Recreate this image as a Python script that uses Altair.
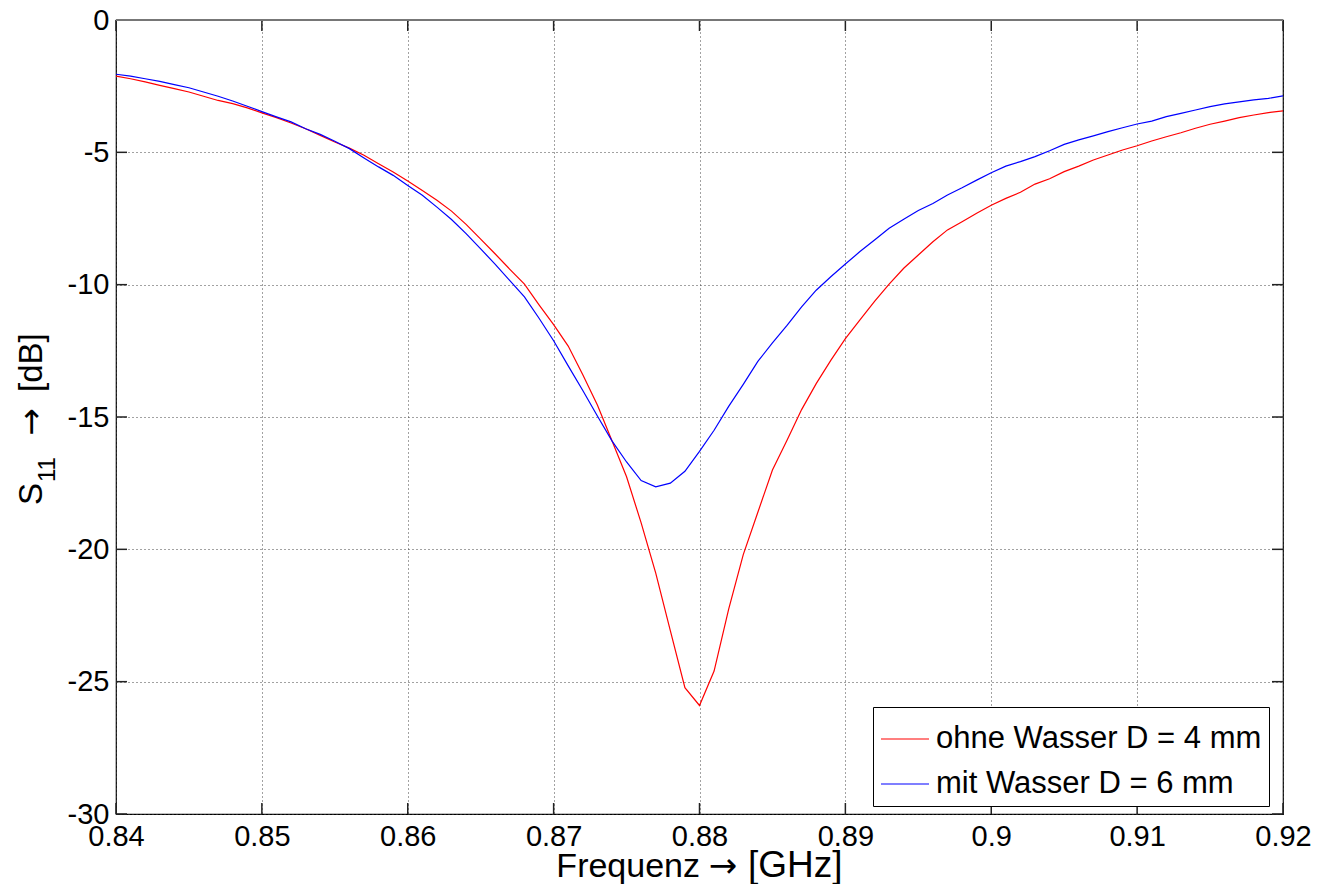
import altair as alt
import pandas as pd

freq = [0.840, 0.841, 0.842, 0.843, 0.844, 0.845, 0.846, 0.847, 0.848, 0.849,
        0.850, 0.851, 0.852, 0.853, 0.854, 0.855, 0.856, 0.857, 0.858, 0.859,
        0.860, 0.861, 0.862, 0.863, 0.864, 0.865, 0.866, 0.867, 0.868, 0.869,
        0.870, 0.871, 0.872, 0.873, 0.874, 0.875, 0.876, 0.877, 0.878, 0.879,
        0.880, 0.881, 0.882, 0.883, 0.884, 0.885, 0.886, 0.887, 0.888, 0.889,
        0.890, 0.891, 0.892, 0.893, 0.894, 0.895, 0.896, 0.897, 0.898, 0.899,
        0.900, 0.901, 0.902, 0.903, 0.904, 0.905, 0.906, 0.907, 0.908, 0.909,
        0.910, 0.911, 0.912, 0.913, 0.914, 0.915, 0.916, 0.917, 0.918, 0.919,
        0.920]

ohne_wasser = [-2.12, -2.22, -2.34, -2.47, -2.59, -2.72, -2.88, -3.04, -3.16, -3.32,
               -3.51, -3.69, -3.89, -4.11, -4.36, -4.61, -4.84, -5.11, -5.43, -5.74,
               -6.08, -6.44, -6.81, -7.22, -7.72, -8.28, -8.84, -9.42, -9.98, -10.76,
               -11.51, -12.32, -13.40, -14.55, -15.90, -17.26, -19.00, -20.90, -23.07, -25.23,
               -25.90, -24.60, -22.26, -20.20, -18.60, -17.00, -15.88, -14.72, -13.74, -12.86,
               -12.04, -11.33, -10.63, -9.98, -9.38, -8.88, -8.38, -7.93, -7.62, -7.30,
               -7.00, -6.74, -6.51, -6.20, -6.00, -5.73, -5.52, -5.29, -5.10, -4.91,
               -4.75, -4.57, -4.41, -4.26, -4.09, -3.94, -3.82, -3.69, -3.59, -3.50,
               -3.43]

mit_wasser = [-2.05, -2.12, -2.22, -2.32, -2.44, -2.56, -2.72, -2.88, -3.06, -3.26,
              -3.46, -3.66, -3.85, -4.11, -4.32, -4.58, -4.86, -5.21, -5.55, -5.87,
              -6.25, -6.62, -7.07, -7.54, -8.07, -8.65, -9.23, -9.85, -10.46, -11.27,
              -12.12, -13.07, -14.00, -14.96, -15.90, -16.70, -17.40, -17.64, -17.50, -17.05,
              -16.30, -15.50, -14.60, -13.77, -12.90, -12.20, -11.54, -10.84, -10.21, -9.70,
              -9.22, -8.75, -8.31, -7.87, -7.53, -7.20, -6.93, -6.61, -6.34, -6.05,
              -5.77, -5.52, -5.35, -5.16, -4.94, -4.70, -4.53, -4.38, -4.22, -4.07,
              -3.93, -3.82, -3.65, -3.53, -3.40, -3.27, -3.17, -3.09, -3.02, -2.96,
              -2.87]

series_names = ["ohne Wasser D = 4 mm", "mit Wasser D = 6 mm"]
series_colors = ["#ff0000", "#0000ff"]
x_ticks = [0.84, 0.85, 0.86, 0.87, 0.88, 0.89, 0.9, 0.91, 0.92]
y_ticks = [-30, -25, -20, -15, -10, -5, 0]

x_title_parts = ["Frequenz", "→", "[GHz]"]
y_title_parts = ["S", "11", "→", "[dB]"]

W, H = 1167, 794
FONT = "Liberation Sans"
ARROW_FONT = "DejaVu Sans"
TICK = 11

rows = []
for f, a in zip(freq, ohne_wasser):
    rows.append({"f": f, "s": a, "serie": series_names[0], "k": 0})
for f, b in zip(freq, mit_wasser):
    rows.append({"f": f, "s": b, "serie": series_names[1], "k": 1})
df = pd.DataFrame(rows)

xs = alt.Scale(domain=[0.84, 0.92], nice=False, zero=False)
ys = alt.Scale(domain=[-30, 0], nice=False, zero=False)

x_axis = alt.Axis(
    values=x_ticks, title=None, grid=True, gridDash=[1, 3],
    gridColor="#444", gridWidth=1, tickSize=0, domain=False,
    labelExpr="'' + datum.value", labelFontSize=29, labelPadding=8,
    labelColor="black", labelFlush=False, labelOverlap=False, labelBound=False,
    labelFont=FONT)
y_axis = alt.Axis(
    values=y_ticks, title=None, grid=True, gridDash=[1, 3],
    gridColor="#444", gridWidth=1, tickSize=0, domain=False,
    labelExpr="'' + datum.value", labelFontSize=29, labelPadding=7,
    labelColor="black", labelFlush=False, labelOverlap=False, labelBound=False,
    labelFont=FONT)

lines = alt.Chart(df).mark_line(strokeWidth=1.2, clip=True).encode(
    x=alt.X("f:Q", scale=xs, axis=x_axis),
    y=alt.Y("s:Q", scale=ys, axis=y_axis),
    color=alt.Color("serie:N", scale=alt.Scale(domain=series_names, range=series_colors),
                    legend=alt.Legend(
                        orient="none", legendX=757, legendY=687, title=None,
                        symbolType="stroke", symbolSize=2304, symbolStrokeWidth=1.2,
                        labelFontSize=31, labelFont=FONT, labelColor="black",
                        labelOffset=6, padding=7, rowPadding=5,
                        strokeColor="black", fillColor="white", cornerRadius=0,
                        labelLimit=500)),
    detail="k:N",
)

xt = pd.DataFrame({"v": x_ticks})
yt = pd.DataFrame({"v": y_ticks})
tick_color = "#222"

bottom_ticks = alt.Chart(xt).mark_rule(color=tick_color, strokeWidth=1.5).encode(
    x=alt.X("v:Q", scale=xs, axis=x_axis), y=alt.value(H), y2=alt.value(H - TICK))
top_ticks = alt.Chart(xt).mark_rule(color=tick_color, strokeWidth=1.5).encode(
    x=alt.X("v:Q", scale=xs, axis=x_axis), y=alt.value(0), y2=alt.value(TICK))
left_ticks = alt.Chart(yt).mark_rule(color=tick_color, strokeWidth=1.5).encode(
    y=alt.Y("v:Q", scale=ys, axis=y_axis), x=alt.value(0), x2=alt.value(TICK))
right_ticks = alt.Chart(yt).mark_rule(color=tick_color, strokeWidth=1.5).encode(
    y=alt.Y("v:Q", scale=ys, axis=y_axis), x=alt.value(W), x2=alt.value(W - TICK))
top_border = alt.Chart(xt).mark_rule(color="#777", strokeWidth=1.5).encode(
    x=alt.value(0), x2=alt.value(W), y=alt.value(0))


def label(text, x, y, font=FONT, size=33, align="left", angle=0):
    return alt.Chart(pd.DataFrame({"t": [text]})).mark_text(
        font=font, fontSize=size, align=align, baseline="alphabetic",
        angle=angle, color="black", clip=False,
    ).encode(text="t:N", x=alt.value(x), y=alt.value(y))


xb = H + 63
x_title = [
    label(x_title_parts[0], 584, xb, size=34, align="right"),
    label(x_title_parts[1], 607, xb, font=ARROW_FONT, size=34, align="center"),
    label(x_title_parts[2], 632, xb, size=37, align="left"),
]
yb = -74
y_title = [
    label(y_title_parts[0], yb, 485, angle=270),
    label(y_title_parts[1], yb + 13, 462, size=24, angle=270),
    label(y_title_parts[2], yb, 402, font=ARROW_FONT, align="center", angle=270),
    label(y_title_parts[3], yb, 372, angle=270),
]

chart = alt.layer(
    lines, bottom_ticks, top_ticks, left_ticks, right_ticks, top_border,
    *x_title, *y_title
).properties(
    width=W, height=H,
    autosize=alt.AutoSizeParams(type="none"),
    padding={"left": 108, "top": 12, "right": 29, "bottom": 70},
    background="white",
).configure_view(
    stroke="black", strokeWidth=1.2
)

chart.save("out.html", embed_options={"renderer": "svg", "actions": False})
